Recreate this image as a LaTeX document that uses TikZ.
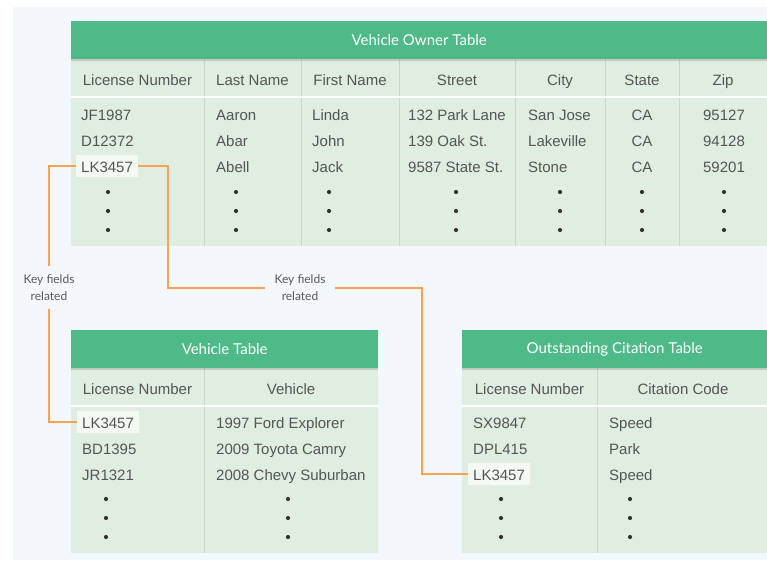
\documentclass[tikz,border=0pt]{standalone}
\usepackage{fontspec}
\setmainfont{Liberation Sans}
\newfontfamily\hdfont{Lato}
\usetikzlibrary{shadows}
\definecolor{bgc}{HTML}{F3F8FC}
\definecolor{hdgreen}{HTML}{4DBA87}
\definecolor{bodyg}{HTML}{DFEEE1}
\definecolor{sepc}{HTML}{C4D9C8}
\definecolor{txt}{HTML}{555555}
\definecolor{orng}{HTML}{F7A352}
\definecolor{hil}{HTML}{F4F9F4}
\definecolor{keytxt}{HTML}{5A5A5A}
\begin{document}
\begin{tikzpicture}[x=1pt,y=-1pt,
  hdr/.style={fill=hdgreen, text=white, anchor=north west, inner sep=0pt,
    font=\hdfont\fontsize{15}{18}\selectfont,
    drop shadow={shadow xshift=0pt, shadow yshift=-1.5pt, opacity=0.25, fill=black!60}},
  bodybox/.style={fill=bodyg},
  colsep/.style={draw=sepc, line width=1pt},
  rowsep/.style={draw=white, line width=2pt},
  cell/.style={anchor=base west, inner sep=0pt, text=txt, font=\fontsize{15}{18}\selectfont},
  ccell/.style={anchor=base, inner sep=0pt, text=txt, font=\fontsize{15}{18}\selectfont},
  keybox/.style={anchor=base west, inner xsep=5pt, inner ysep=0pt, text height=17pt, text depth=5pt,
    fill=hil, text=txt, font=\fontsize{15}{18}\selectfont},
  keylabel/.style={align=center, text=keytxt, inner xsep=9pt, inner ysep=8pt,
    font=\hdfont\fontsize{12}{17}\selectfont},
  conn/.style={draw=orng, line width=2pt},
  dotc/.style={fill=black!80}
]
\useasboundingbox (0,0) rectangle (767,562);
\fill[bgc] (13,7) rectangle (767,560);

% ---------------- Vehicle Owner Table ----------------
\fill[bodybox] (71,59) rectangle (767,246);
\foreach \x in {204,301,399,515,605,679} \draw[colsep] (\x,59) -- (\x,246);
\draw[rowsep] (71,97) -- (767,97);
\node[hdr, minimum width=696pt, minimum height=38pt] (ownerHead) at (71,21) {Vehicle Owner Table};
\foreach \x/\t [count=\i] in {137.5/License Number,252.5/Last Name,350/First Name,457/Street,560/City,642/State,723/Zip}
  \node[ccell] (oh\i) at (\x,85) {\t};
\node[cell] (ow1-a) at (81,120) {JF1987};
\node[cell] (ow2-a) at (81,146) {D12372};
\node[keybox] (lk1) at (76,172) {LK3457};
\foreach \y/\b/\c/\d/\e/\f/\g [count=\r] in {120/Aaron/Linda/132 Park Lane/San Jose/CA/95127,146/Abar/John/139 Oak St./Lakeville/CA/94128,172/Abell/Jack/9587 State St./Stone/CA/59201}{
  \node[cell] (ow\r-b) at (216,\y) {\b};
  \node[cell] (ow\r-c) at (312,\y) {\c};
  \node[cell] (ow\r-d) at (408,\y) {\d};
  \node[cell] (ow\r-e) at (528,\y) {\e};
  \node[ccell] (ow\r-f) at (642,\y) {\f};
  \node[ccell] (ow\r-g) at (724,\y) {\g};
}
\foreach \x in {108,236,329,456,560,642,724}
  \foreach \y in {192,211,230} \fill[dotc] (\x,\y) circle (2.1);

% ---------------- Vehicle Table ----------------
\fill[bodybox] (71,368) rectangle (378,553);
\draw[colsep] (204,368) -- (204,553);
\draw[rowsep] (71,406) -- (378,406);
\node[hdr, minimum width=307pt, minimum height=38pt] (vehHead) at (71,330) {Vehicle Table};
\node[ccell] (vh1) at (137.5,394) {License Number};
\node[ccell] (vh2) at (291,394) {Vehicle};
\node[keybox] (lk2) at (77,428) {LK3457};
\node[cell] (vr2-a) at (82,454) {BD1395};
\node[cell] (vr3-a) at (82,480) {JR1321};
\node[cell] (vr1-b) at (216,428) {1997 Ford Explorer};
\node[cell] (vr2-b) at (216,454) {2009 Toyota Camry};
\node[cell] (vr3-b) at (216,480) {2008 Chevy Suburban};
\foreach \x in {106,288}
  \foreach \y in {499,518,537} \fill[dotc] (\x,\y) circle (2.1);

% ---------------- Outstanding Citation Table ----------------
\fill[bodybox] (462,368) rectangle (767,553);
\draw[colsep] (597,368) -- (597,553);
\draw[rowsep] (462,406) -- (767,406);
\node[hdr, minimum width=305pt, minimum height=38pt] (citHead) at (462,330) {Outstanding Citation Table};
\node[ccell] (ch1) at (529.5,394) {License Number};
\node[ccell] (ch2) at (683,394) {Citation Code};
\node[cell] (cr1-a) at (473,428) {SX9847};
\node[cell] (cr2-a) at (473,454) {DPL415};
\node[keybox] (lk3) at (468,480) {LK3457};
\node[cell] (cr1-b) at (609,428) {Speed};
\node[cell] (cr2-b) at (609,454) {Park};
\node[cell] (cr3-b) at (609,480) {Speed};
\foreach \x in {501,630}
  \foreach \y in {499,518,537} \fill[dotc] (\x,\y) circle (2.1);

% ---------------- Connectors ----------------
\node[keylabel] (k1) at (49,287.5) {Key fields\\related};
\node[keylabel] (k2) at (300,287.5) {Key fields\\related};
\coordinate (t1) at (168,287.5);
\coordinate (t2) at (422,287.5);
\draw[conn] (lk1.west) -| (k1.north);
\draw[conn] (k1.south) |- (lk2.west);
\draw[conn] (lk1.east) -| (t1) -- (k2.west);
\draw[conn] (k2.east) -- (t2) |- (lk3.west);
\end{tikzpicture}
\end{document}
